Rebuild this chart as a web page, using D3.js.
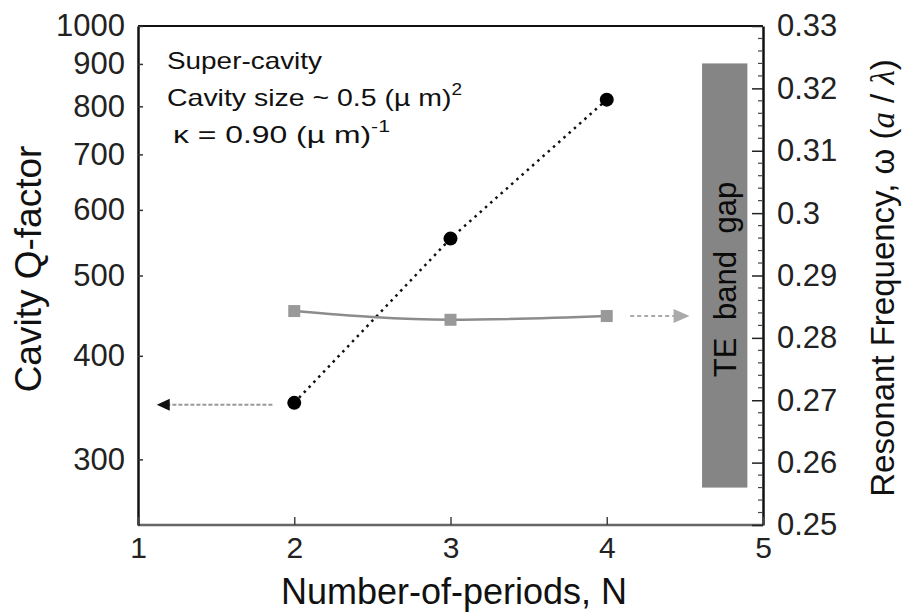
<!DOCTYPE html>
<html>
<head>
<meta charset="utf-8">
<script src="https://cdn.jsdelivr.net/npm/d3@7"></script>
<style>
  body { margin: 0; background: #fff; }
  svg { display: block; font-family: "Liberation Sans", Arial, sans-serif; }
</style>
</head>
<body>
<svg id="chart" width="902" height="615"></svg>
<script>
// ---- data ----
const periods = [2, 3, 4];                 // N
const qFactor = [351, 554, 815];           // cavity Q-factor (left, log axis)
const resFreq = [0.2843, 0.2829, 0.2835];  // resonant frequency a/λ (right axis)
const bandGap = [0.256, 0.324];            // TE band gap range (right axis)
const xTicks = [1, 2, 3, 4, 5];
const qTicks = [300, 400, 500, 600, 700, 800, 900, 1000];
const fTicks = [0.25, 0.26, 0.27, 0.28, 0.29, 0.30, 0.31, 0.32, 0.33];
const leftArrowN = [1.86, 1.12];   // arrow pointing to left axis (at Q of N=2)
const rightArrowN = [4.15, 4.53];  // arrow pointing to right axis (at freq of N=4)
const notes = ["Super-cavity", "Cavity size ~ 0.5 (\u00b5 m)", "\u03ba = 0.90 (\u00b5 m)"];

// ---- layout ----
const L = 138, R = 763, T = 26, B = 525;
const svg = d3.select("#chart");

const x = d3.scaleLinear().domain([1, 5]).range([L, R]);
const yQ = d3.scaleLog().domain([250, 1000]).range([B, T]);
const yF = d3.scaleLinear().domain([0.25, 0.33]).range([B, T]);

// band gap rectangle
svg.append("rect")
  .attr("x", x(4.61)).attr("width", x(4.90) - x(4.61))
  .attr("y", yF(bandGap[1])).attr("height", yF(bandGap[0]) - yF(bandGap[1]))
  .attr("fill", "#858585");
svg.append("text")
  .attr("transform", `translate(${x(4.755) + 11},${yF((bandGap[0] + bandGap[1]) / 2) + 4}) rotate(-90)`)
  .attr("text-anchor", "middle")
  .attr("font-size", 31)
  .style("word-spacing", "9px")
  .attr("fill", "#0a0a0a")
  .text("TE band gap");

// frame
svg.append("line").attr("x1", L).attr("x2", R).attr("y1", T).attr("y2", T).attr("stroke", "#111").attr("stroke-width", 2);
svg.append("line").attr("x1", L).attr("x2", R).attr("y1", B).attr("y2", B).attr("stroke", "#666").attr("stroke-width", 2.5);

// left axis (log)
const axL = svg.append("g").attr("transform", `translate(${L},0)`)
  .call(d3.axisLeft(yQ).tickValues(qTicks).tickFormat(d3.format("d")).tickSizeInner(-5).tickSizeOuter(0).tickPadding(13));
axL.select(".domain").attr("stroke", "#111").attr("stroke-width", 2.5);
axL.selectAll(".tick line").attr("stroke", "#333").attr("stroke-width", 1.5);
axL.selectAll("text").attr("font-size", 31).attr("fill", "#222").attr("font-family", "Liberation Sans, Arial");

// right axis
const axR = svg.append("g").attr("transform", `translate(${R},0)`)
  .call(d3.axisRight(yF).tickValues(fTicks).tickFormat(d => String(+d.toFixed(2))).tickSizeInner(-11).tickSizeOuter(0).tickPadding(14));
axR.select(".domain").attr("stroke", "#111").attr("stroke-width", 2.5);
axR.selectAll(".tick line").attr("stroke", "#222").attr("stroke-width", 1.5);
axR.selectAll("text").attr("font-size", 31).attr("fill", "#222").attr("font-family", "Liberation Sans, Arial");
const minorF = d3.range(0.25, 0.3301, 0.002).filter(v => Math.abs(Math.round(v * 100) - v * 100) > 1e-6);
svg.append("g").selectAll("line").data(minorF).join("line")
  .attr("x1", R - 5).attr("x2", R).attr("y1", d => yF(d)).attr("y2", d => yF(d))
  .attr("stroke", "#444").attr("stroke-width", 1.2);

// bottom axis
const axB = svg.append("g").attr("transform", `translate(0,${B})`)
  .call(d3.axisBottom(x).tickValues(xTicks).tickFormat(d3.format("d")).tickSizeInner(-8).tickSizeOuter(0).tickPadding(12));
axB.select(".domain").remove();
axB.selectAll(".tick line").attr("stroke", "#444").attr("stroke-width", 1.5);
axB.selectAll("text").attr("font-size", 30).attr("fill", "#222").attr("font-family", "Liberation Sans, Arial");

// axis titles
svg.append("text").attr("x", 454).attr("y", 604).attr("text-anchor", "middle")
  .attr("font-size", 36).attr("fill", "#111").text("Number-of-periods, N");
svg.append("text").attr("transform", "translate(41,269) rotate(-90)").attr("text-anchor", "middle")
  .attr("font-size", 37).attr("fill", "#111").text("Cavity Q-factor");
const rt = svg.append("text").attr("transform", "translate(894,278) rotate(-90)").attr("text-anchor", "middle")
  .attr("font-size", 33).attr("fill", "#111");
rt.append("tspan").text("Resonant Frequency, \u03c9 (");
rt.append("tspan").attr("font-style", "italic").attr("font-family", "Liberation Serif, serif").text("a");
rt.append("tspan").text(" / ");
rt.append("tspan").attr("font-style", "italic").attr("font-family", "Liberation Serif, serif").text("\u03bb");
rt.append("tspan").text(")");

// annotations
const ann = svg.append("g").attr("font-size", 24).attr("fill", "#111");
ann.append("text").attr("x", 167).attr("y", 69)
  .attr("textLength", 155).attr("lengthAdjust", "spacingAndGlyphs").text(notes[0]);
const t2 = ann.append("text").attr("x", 167).attr("y", 106)
  .attr("textLength", 295).attr("lengthAdjust", "spacingAndGlyphs").text(notes[1]);
t2.append("tspan").attr("font-size", 16).attr("dy", -11).text("2");
const t3 = ann.append("text").attr("x", 173).attr("y", 143)
  .attr("textLength", 217).attr("lengthAdjust", "spacingAndGlyphs").text(notes[2]);
t3.append("tspan").attr("font-size", 16).attr("dy", -11).text("-1");

// Q-factor dotted line and circles
const qData = periods.map((n, i) => ({ n, q: qFactor[i] }));
svg.append("path").datum(qData)
  .attr("d", d3.line().x(d => x(d.n)).y(d => yQ(d.q)))
  .attr("fill", "none").attr("stroke", "#111").attr("stroke-width", 2.5)
  .attr("stroke-dasharray", "2.5,4.5");
svg.append("g").selectAll("circle").data(qData).join("circle")
  .attr("cx", d => x(d.n)).attr("cy", d => yQ(d.q)).attr("r", 7).attr("fill", "#000");

// frequency line and squares
const fData = periods.map((n, i) => ({ n, f: resFreq[i] }));
svg.append("path").datum(fData)
  .attr("d", d3.line().curve(d3.curveMonotoneX).x(d => x(d.n)).y(d => yF(d.f)))
  .attr("fill", "none").attr("stroke", "#8c8c8c").attr("stroke-width", 2.5);
svg.append("g").selectAll("rect").data(fData).join("rect")
  .attr("x", d => x(d.n) - 6).attr("y", d => yF(d.f) - 6).attr("width", 12).attr("height", 12)
  .attr("fill", "#999");

// left arrow
const ya = yQ(qFactor[0]) + 2;
svg.append("line").attr("x1", x(leftArrowN[0])).attr("x2", x(leftArrowN[1]) + 8)
  .attr("y1", ya).attr("y2", ya).attr("stroke", "#999").attr("stroke-width", 2)
  .attr("stroke-dasharray", "4,2");
const lx = x(leftArrowN[1]);
svg.append("path").attr("d", `M${lx},${ya} L${lx + 13},${ya - 6} L${lx + 13},${ya + 6} Z`).attr("fill", "#111");

// right arrow
const yb = yF(resFreq[2]);
svg.append("line").attr("x1", x(rightArrowN[0])).attr("x2", x(rightArrowN[1]) - 12)
  .attr("y1", yb).attr("y2", yb).attr("stroke", "#aaa").attr("stroke-width", 2)
  .attr("stroke-dasharray", "4,3");
const rx = x(rightArrowN[1]);
svg.append("path").attr("d", `M${rx},${yb} L${rx - 16},${yb - 7} L${rx - 16},${yb + 7} Z`).attr("fill", "#aaa");
</script>
</body>
</html>
